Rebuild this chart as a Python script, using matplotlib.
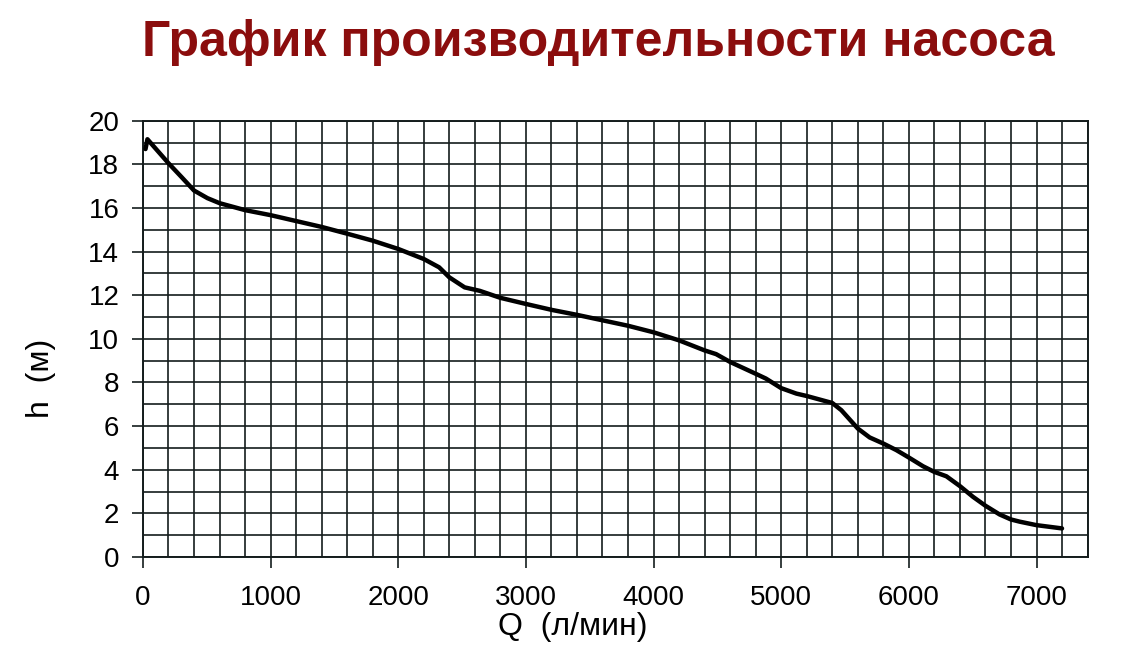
import numpy as np
import matplotlib
matplotlib.use("Agg")
import matplotlib.pyplot as plt
from matplotlib.ticker import MultipleLocator

plt.rcParams['font.family'] = ['Liberation Sans', 'DejaVu Sans']

# pump curve: flow Q (l/min) and head h (m)
q_flow = [20, 35, 200, 300, 400, 505, 600, 800, 1000, 1200, 1400, 1600, 1800,
          2000, 2200, 2320, 2400, 2520, 2639, 2800, 3000, 3200, 3400, 3600,
          3800, 4000, 4200, 4400, 4490, 4600, 4800, 4880, 5000, 5119, 5200,
          5400, 5471, 5600, 5693, 5800, 5902, 6000, 6111, 6200, 6294, 6400,
          6502, 6600, 6711, 6800, 6868, 7000, 7200]
h_head = [18.7, 19.15, 18.05, 17.43, 16.8, 16.45, 16.22, 15.9, 15.67, 15.4,
          15.13, 14.82, 14.5, 14.12, 13.66, 13.28, 12.82, 12.36, 12.2, 11.88,
          11.6, 11.33, 11.1, 10.85, 10.6, 10.3, 9.93, 9.47, 9.3, 8.94, 8.4,
          8.18, 7.74, 7.49, 7.38, 7.06, 6.73, 5.89, 5.48, 5.2, 4.9, 4.56,
          4.16, 3.9, 3.7, 3.25, 2.76, 2.35, 1.95, 1.72, 1.62, 1.46, 1.31]

x_ticks = [0, 1000, 2000, 3000, 4000, 5000, 6000, 7000]
y_ticks = [0, 2, 4, 6, 8, 10, 12, 14, 16, 18, 20]

fig = plt.figure(figsize=(11.4, 6.51), dpi=100)
ax = fig.add_axes([0.1254, 0.1444, 0.8286, 0.6702])

ax.plot(q_flow, h_head, color='black', lw=3.2, solid_capstyle='round',
        solid_joinstyle='round', zorder=3)

ax.set_xlim(0, 7400)
ax.set_ylim(0, 20)
ax.set_xticks(x_ticks)
ax.set_yticks(y_ticks)
ax.xaxis.set_minor_locator(MultipleLocator(200))
ax.yaxis.set_minor_locator(MultipleLocator(1))
ax.grid(which='both', color='#141c1c', lw=1.2)
ax.set_axisbelow(True)
ax.tick_params(which='major', direction='out', length=8, width=1.2,
               color='#141c1c', labelsize=20)
ax.tick_params(axis='x', which='major', pad=12)
ax.tick_params(axis='y', which='major', pad=9)
ax.tick_params(which='minor', length=0)
for s in ax.spines.values():
    s.set_color('#141c1c')
    s.set_linewidth(1.4)

fig.text(0.525, 0.934, 'График производительности насоса', ha='center',
         va='center', fontsize=36, fontweight='bold', color='#8b0d0d')
fig.text(0.502, 0.037, 'Q  (л/мин)', ha='center', va='center', fontsize=23)
fig.text(0.036, 0.419, 'h  (м)', ha='center', va='center', fontsize=23,
         rotation=90)

fig.savefig('out.png', dpi=100, facecolor='white')
